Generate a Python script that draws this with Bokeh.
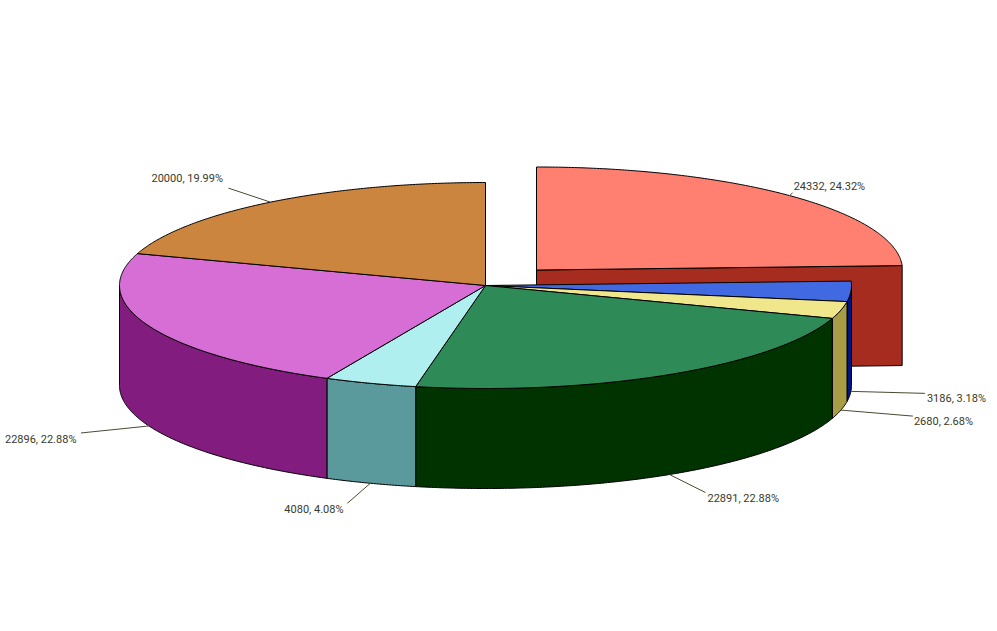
import numpy as np
from bokeh.plotting import figure
from bokeh.models import Range1d
from bokeh.core.properties import value
from bokeh.embed import file_html
from bokeh.resources import INLINE

values = [24332, 3186, 2680, 22891, 4080, 22896, 20000]
top_colors = ["#FF8070", "#4169E1", "#F0E68C", "#2E8B57", "#B0EFEF", "#D76ED5", "#CC853F"]
side_colors = ["#A52C1E", "#00147F", "#A89D46", "#003300", "#5B9A9C", "#821C7E", "#7A4F20"]
exploded = [True, False, False, False, False, False, False]
label_offsets = [(3, -3), (74, 2), (72, 6), (36, 18), (-23, 20), (-68, 7), (-42, -14)]
text_offsets = [(4, -9.5), (76, 7), (73, 11), (38, 24), (-86, 26), (-144, 14), (-119, -24)]

CX, CY, RX, RY, DEPTH = 485.0, 285.0, 366.0, 103.0, 100.0
EX, EY = 51.0, -15.5


def pt(a, cx, cy, dz=0.0):
    r = np.radians(a)
    return cx + RX * np.sin(r), cy - RY * np.cos(r) + dz


def arc(a0, a1, cx, cy, dz=0.0):
    n = max(2, int(abs(a1 - a0) * 2) + 2)
    xs, ys = pt(np.linspace(a0, a1, n), cx, cy, dz)
    return list(xs), list(ys)


total = sum(values)
edges = np.concatenate([[0], np.cumsum(values)]) / total * 360.0

p = figure(width=997, height=631, output_backend="svg", toolbar_location=None,
           x_range=Range1d(0, 997), y_range=Range1d(631, 0),
           min_border=0, min_border_left=0, min_border_right=0,
           min_border_top=0, min_border_bottom=0,
           background_fill_color="white", border_fill_color="white")
p.axis.visible = False
p.grid.visible = False
p.outline_line_color = None
p.styles = {"position": "absolute", "left": "0px", "top": "0px"}

# exploded slices: end face, then top
for i, ex in enumerate(exploded):
    if not ex:
        continue
    a0, a1 = edges[i], edges[i + 1]
    cx, cy = CX + EX, CY + EY
    ex_, ey_ = pt(a1, cx, cy)
    fx = [cx, ex_, ex_, cx]
    fy = [cy, ey_, ey_ + DEPTH, cy + DEPTH]
    p.patch(fx, fy, fill_color=side_colors[i], line_color="black", line_width=1)
    tx, ty = arc(a0, a1, cx, cy)
    p.patch([cx] + tx, [cy] + ty, fill_color=top_colors[i], line_color="black", line_width=1)

# rims of the remaining slices
for i, ex in enumerate(exploded):
    if ex:
        continue
    lo, hi = max(edges[i], 90.0), min(edges[i + 1], 270.0)
    if hi <= lo:
        continue
    tx, ty = arc(lo, hi, CX, CY)
    bx, by = arc(hi, lo, CX, CY, DEPTH)
    p.patch(tx + bx, ty + by, fill_color=side_colors[i], line_color="black", line_width=1)

# tops of the remaining slices
for i, ex in enumerate(exploded):
    if ex:
        continue
    tx, ty = arc(edges[i], edges[i + 1], CX, CY)
    p.patch([CX] + tx, [CY] + ty, fill_color=top_colors[i], line_color="black", line_width=1)

# leaders and labels
for i, v in enumerate(values):
    mid = (edges[i] + edges[i + 1]) / 2
    cx = CX + EX if exploded[i] else CX
    cy = CY + EY if exploded[i] else CY
    dz = DEPTH if 90 < mid < 270 else 0.0
    x0, y0 = pt(mid, cx, cy, dz)
    (dx, dy), (tx, ty) = label_offsets[i], text_offsets[i]
    p.line([x0, x0 + dx], [y0, y0 + dy], line_color="#4A4A32", line_width=1)
    p.text([x0 + tx], [y0 + ty], text=[f"{v}, {v / total * 100:.2f}%"],
           text_font=value("Roboto"), text_font_size="11px",
           text_color="#3A3A2A", text_baseline="middle", text_align="left")

open("out.html", "w").write(file_html(p, INLINE))
